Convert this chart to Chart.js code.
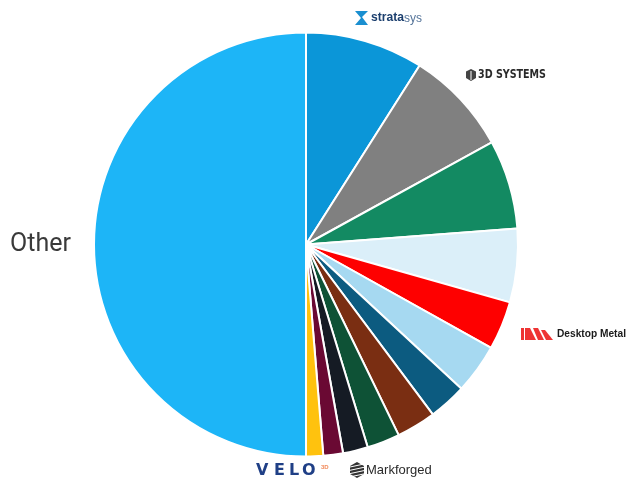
<!DOCTYPE html>
<html>
<head>
<meta charset="utf-8">
<script src="https://cdn.jsdelivr.net/npm/chart.js@4/dist/chart.umd.min.js"></script>
<style>
html,body{margin:0;padding:0;background:#fff;}
#wrap{position:relative;width:640px;height:495px;}
</style>
</head>
<body>
<div id="wrap"><canvas id="c" width="640" height="495"></canvas></div>
<script>
// Data (share in %, clockwise from 12 o'clock)
const categories = ["Stratasys","3D Systems","Company C","Company D","Desktop Metal","Company F","Company G","Company H","Company I","Markforged","Company K","Velo3D","Other"];
const shares = [9.0, 8.0, 6.8, 5.6, 3.7, 3.8, 2.9, 3.0, 2.5, 1.9, 1.5, 1.3, 50.0];
const colors = ["#0b96d8","#808080","#138a62","#dbeff9","#fe0000","#a6d9f1","#0c5b80","#7a2e12","#0e5236","#151b24","#6a0933","#ffc20e","#1db5f7"];

const labelPlugin = {
  id: 'logoLabels',
  afterDraw(chart) {
    const ctx = chart.ctx;
    ctx.save();
    ctx.textBaseline = 'middle';
    ctx.textAlign = 'left';

    // Stratasys
    ctx.fillStyle = '#1a8fd0';
    ctx.beginPath();
    ctx.moveTo(355,11); ctx.lineTo(368,11); ctx.lineTo(362,17); ctx.lineTo(368,25); ctx.lineTo(355,25); ctx.lineTo(361,18); ctx.closePath();
    ctx.fill();
    ctx.font = 'bold 12.5px "Liberation Sans", Arial, sans-serif';
    ctx.fillStyle = '#1c3f6e';
    ctx.fillText('strata', 371, 18, 33);
    ctx.font = '12.5px "Liberation Sans", Arial, sans-serif';
    ctx.fillStyle = '#56759a';
    ctx.fillText('sys', 404, 18.5, 18);

    // 3D Systems
    ctx.fillStyle = '#444';
    ctx.beginPath();
    ctx.moveTo(471,69); ctx.lineTo(476,71.5); ctx.lineTo(476,78); ctx.lineTo(471,81); ctx.lineTo(466,78); ctx.lineTo(466,71.5); ctx.closePath();
    ctx.fill();
    ctx.fillStyle = '#fff';
    ctx.fillRect(470.5,71,1,9);
    ctx.font = 'bold 11.5px "DejaVu Sans Condensed", "DejaVu Sans", sans-serif';
    ctx.fillStyle = '#2a2a2a';
    ctx.fillText('3D SYSTEMS', 478, 75.5, 68);

    // Desktop Metal
    ctx.fillStyle = '#ee3333';
    ctx.fillRect(521,328,3,12);
    ctx.beginPath();
    ctx.moveTo(525,328); ctx.lineTo(530,328); ctx.lineTo(536,340); ctx.lineTo(525,340); ctx.closePath(); ctx.fill();
    ctx.beginPath();
    ctx.moveTo(533,328); ctx.lineTo(538,328); ctx.lineTo(544,340); ctx.lineTo(538,340); ctx.closePath(); ctx.fill();
    ctx.beginPath();
    ctx.moveTo(541,330); ctx.lineTo(545,330); ctx.lineTo(553,340); ctx.lineTo(546,340); ctx.closePath(); ctx.fill();
    ctx.font = 'bold 11px "Liberation Sans", Arial, sans-serif';
    ctx.fillStyle = '#1b1b1b';
    ctx.fillText('Desktop Metal', 557, 334, 69);

    // Velo3D
    ctx.font = 'bold 16px "DejaVu Sans", "Liberation Sans", sans-serif';
    ctx.fillStyle = '#1f3f86';
    const velo = ['V','E','L','O'];
    const vx = [256, 274, 289, 302];
    velo.forEach((ch, i) => ctx.fillText(ch, vx[i], 471));
    ctx.font = 'bold 6px "Liberation Sans", Arial, sans-serif';
    ctx.fillStyle = '#f28a5a';
    ctx.fillText('3D', 321, 467);

    // Markforged
    ctx.fillStyle = '#333';
    ctx.beginPath();
    ctx.moveTo(357,462); ctx.lineTo(364,466); ctx.lineTo(364,474); ctx.lineTo(357,478); ctx.lineTo(350,474); ctx.lineTo(350,466); ctx.closePath();
    ctx.fill();
    ctx.strokeStyle = '#fff'; ctx.lineWidth = 1;
    for (let k = 0; k < 4; k++) {
      ctx.beginPath(); ctx.moveTo(350, 467 + k*3.3); ctx.lineTo(364, 464 + k*3.3); ctx.stroke();
    }
    ctx.font = '13px "Liberation Sans", Arial, sans-serif';
    ctx.fillStyle = '#2a2a2a';
    ctx.fillText('Markforged', 366, 470, 67);

    // Other
    ctx.font = '25px Roboto, "Liberation Sans", sans-serif';
    ctx.fillStyle = '#3a3a3a';
    ctx.fillText('Other', 10, 245);
    ctx.restore();
  }
};

new Chart(document.getElementById('c'), {
  type: 'pie',
  data: {
    labels: categories,
    datasets: [{
      data: shares,
      backgroundColor: colors,
      borderColor: '#ffffff',
      borderWidth: 2
    }]
  },
  options: {
    responsive: false,
    animation: false,
    radius: 212,
    layout: { padding: { left: 0, right: 28, top: 0, bottom: 6 } },
    plugins: { legend: { display: false }, tooltip: { enabled: false } }
  },
  plugins: [labelPlugin]
});
</script>
</body>
</html>
